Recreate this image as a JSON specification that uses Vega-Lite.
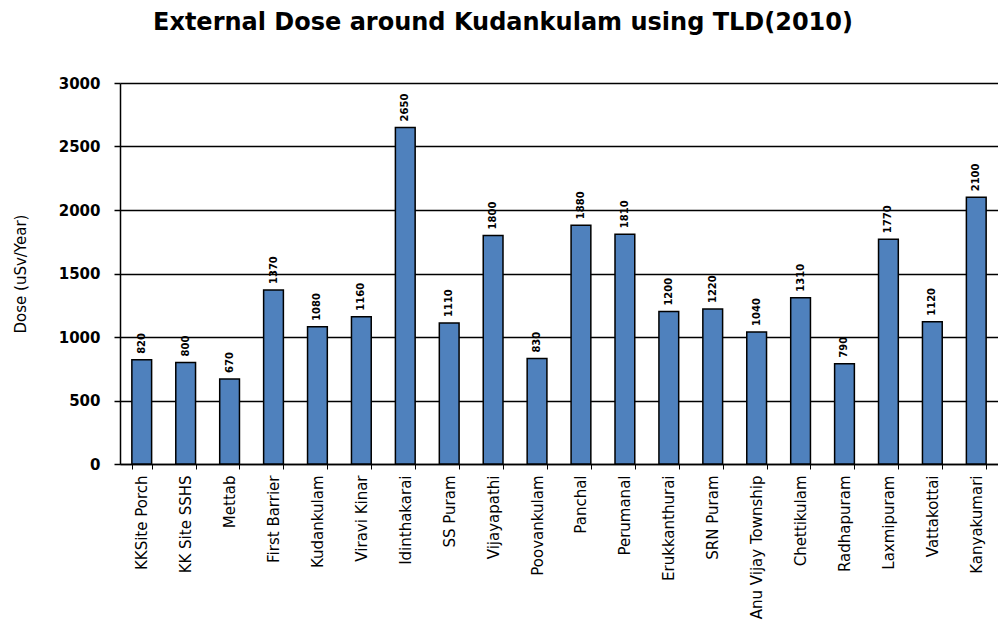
{
  "$schema": "https://vega.github.io/schema/vega-lite/v6.json",
  "autosize": {"type": "none"},
  "width": 878,
  "height": 381,
  "padding": {"left": 120, "top": 83, "right": 0, "bottom": 156},
  "background": "white",
  "title": {
    "text": "External Dose around Kudankulam using TLD(2010)",
    "font": "DejaVu Sans",
    "fontSize": 24,
    "fontWeight": "bold",
    "color": "#000000",
    "anchor": "middle",
    "dx": -56,
    "offset": 41
  },
  "data": {
    "values": [
      {"location": "KKSite Porch", "dose": 820},
      {"location": "KK Site SSHS", "dose": 800},
      {"location": "Mettab", "dose": 670},
      {"location": "First Barrier", "dose": 1370},
      {"location": "Kudankulam", "dose": 1080},
      {"location": "Viravi Kinar", "dose": 1160},
      {"location": "Idinthakarai", "dose": 2650},
      {"location": "SS Puram", "dose": 1110},
      {"location": "Vijayapathi", "dose": 1800},
      {"location": "Poovankulam", "dose": 830},
      {"location": "Panchal", "dose": 1880},
      {"location": "Perumanal", "dose": 1810},
      {"location": "Erukkanthurai", "dose": 1200},
      {"location": "SRN  Puram", "dose": 1220},
      {"location": "Anu Vijay Township", "dose": 1040},
      {"location": "Chettikulam", "dose": 1310},
      {"location": "Radhapuram", "dose": 790},
      {"location": "Laxmipuram", "dose": 1770},
      {"location": "Vattakottai", "dose": 1120},
      {"location": "Kanyakumari", "dose": 2100}
    ]
  },
  "encoding": {
    "x": {
      "field": "location",
      "type": "nominal",
      "sort": null,
      "scale": {"paddingInner": 0.55, "paddingOuter": 0.27},
      "axis": {
        "title": null,
        "labelAngle": 270,
        "labelAlign": "right",
        "labelBaseline": "middle",
        "labelFont": "DejaVu Sans",
        "labelFontSize": 15,
        "labelColor": "#000000",
        "labelPadding": 6,
        "ticks": true,
        "tickBand": "extent",
        "tickSize": 5,
        "tickColor": "#000000",
        "domainColor": "#000000",
        "domainWidth": 1.5,
        "grid": false
      }
    },
    "y": {
      "field": "dose",
      "type": "quantitative",
      "scale": {"domain": [0, 3000], "nice": false},
      "axis": {
        "title": "Dose (uSv/Year)",
        "titleFont": "DejaVu Sans",
        "titleFontSize": 15,
        "titleFontWeight": "normal",
        "titleColor": "#000000",
        "titlePadding": 30,
        "values": [0, 500, 1000, 1500, 2000, 2500, 3000],
        "format": "d",
        "labelFont": "DejaVu Sans",
        "labelFontSize": 15,
        "labelFontWeight": "bold",
        "labelColor": "#000000",
        "labelPadding": 14,
        "tickSize": 6,
        "tickColor": "#000000",
        "tickWidth": 1.5,
        "domainColor": "#000000",
        "domainWidth": 1.5,
        "grid": true,
        "gridColor": "#000000",
        "gridWidth": 1.5,
        "gridOpacity": 1
      }
    }
  },
  "layer": [
    {
      "mark": {"type": "bar", "color": "#4F81BD", "stroke": "#000000", "strokeWidth": 1.5}
    },
    {
      "mark": {
        "type": "text",
        "angle": 270,
        "align": "left",
        "baseline": "middle",
        "dx": 6,
        "font": "DejaVu Sans",
        "fontSize": 10,
        "fontWeight": "bold",
        "color": "#000000"
      },
      "encoding": {"text": {"field": "dose", "type": "quantitative"}}
    }
  ],
  "config": {"view": {"stroke": null}}
}
